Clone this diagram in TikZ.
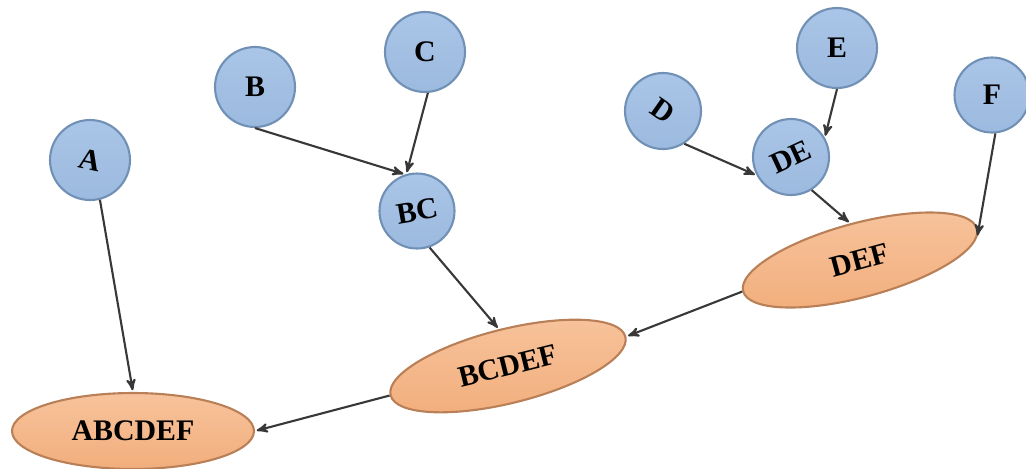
\documentclass[tikz,border=0pt]{standalone}
\usepackage{fontspec}
\setmainfont{Liberation Serif}
\usetikzlibrary{shapes,arrows}
\definecolor{leafblue}{HTML}{9CBADF}
\definecolor{leafblueTop}{HTML}{A9C5E7}
\definecolor{leafborder}{HTML}{7190B6}
\definecolor{mergeorange}{HTML}{F2AE7C}
\definecolor{mergeorangeTop}{HTML}{F7C39C}
\definecolor{mergeborder}{HTML}{B98058}
\definecolor{edgegray}{HTML}{383838}
\tikzset{
   leaf node/.style={circle,top color=leafblueTop,bottom color=leafblue,draw=leafborder,
                     minimum size=1.6cm,inner sep=0pt,font=\fontsize{17}{20}\selectfont\bfseries},
   merge node/.style={ellipse,top color=mergeorangeTop,bottom color=mergeorange,draw=mergeborder,
                      minimum width=4.84cm,minimum height=1.48cm,inner sep=0pt,
                      font=\fontsize{17}{20}\selectfont\bfseries}
}

\begin{document}
\begin{tikzpicture}[x=0.02cm,y=-0.02cm,
                    ->,>=stealth',shorten >=1pt,
                    line width=1.2pt]
\useasboundingbox (0,0) rectangle (1026,468);
\node[leaf node] (A)  at (90,160)  {\rotatebox{-12}{A}};
\node[leaf node] (B)  at (255,87)  {B};
\node[leaf node] (C)  at (425,52)  {C};
\node[leaf node,minimum size=1.5cm] (BC) at (417,211) {\rotatebox{10}{BC}};
\node[leaf node,minimum size=1.52cm] (D)  at (663,111) {\rotatebox{-35}{D}};
\node[leaf node] (E)  at (837,48)  {E};
\node[leaf node,minimum size=1.5cm] (F)  at (992,95)  {F};
\node[leaf node,minimum size=1.52cm] (DE) at (791,157) {\rotatebox{25}{DE}};
\node[merge node,rotate=15] (DEF)    at (860,260) {DEF};
\node[merge node,rotate=14] (BCDEF)  at (508,366) {BCDEF};
\node[merge node,minimum height=1.52cm] (ABCDEF) at (133,431) {ABCDEF};
%
\path[color=edgegray]
  (A.-76)    edge (ABCDEF.north)
  (B.south)  edge (BC.108)
  (C.-86)    edge (BC.106)
  (BC.-71)   edge (BCDEF.north)
  (D.-57)    edge (DE.-152)
  (E.south)  edge (DE.30)
  (DE.-58)   edge (DEF.north)
  (F.-85)    edge (DEF.-4)
  (DEF.west) edge (BCDEF.east)
  (BCDEF.west) edge (ABCDEF.east)
  ;
\end{tikzpicture}
\end{document}
